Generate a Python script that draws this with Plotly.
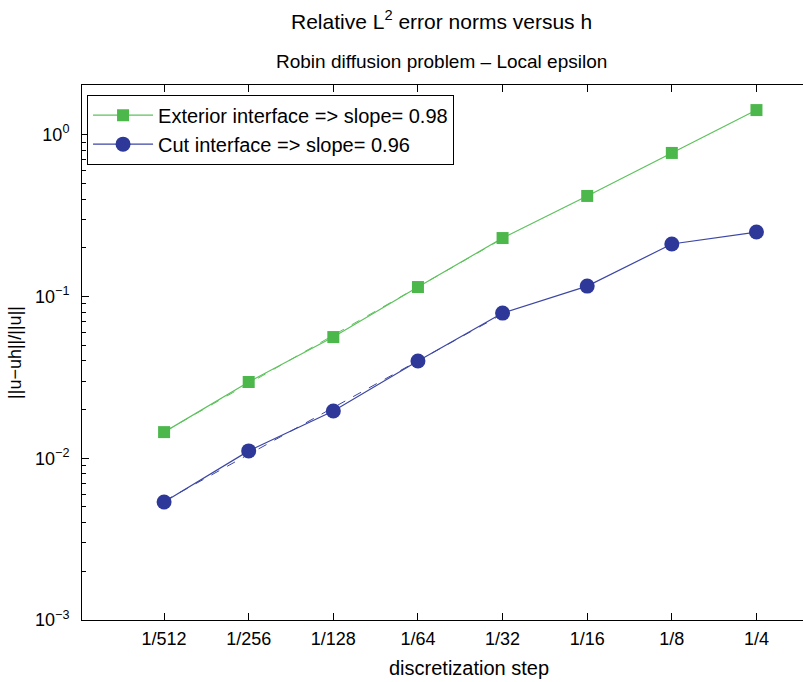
import numpy as np
import plotly.graph_objects as go

# ---- data ----
h_labels = ["1/512", "1/256", "1/128", "1/64", "1/32", "1/16", "1/8", "1/4"]
h_values = [1/512, 1/256, 1/128, 1/64, 1/32, 1/16, 1/8, 1/4]
exterior_err = [0.0145, 0.0296, 0.0561, 0.1143, 0.2296, 0.418, 0.771, 1.419]
cut_err = [0.00536, 0.0111, 0.0196, 0.0399, 0.0789, 0.1159, 0.2109, 0.2501]
exterior_name = "Exterior interface => slope= 0.98"
cut_name = "Cut interface => slope= 0.96"
y_tick_vals = [1e-3, 1e-2, 1e-1, 1]
y_tick_text = ["10<sup>−3</sup>", "10<sup>−2</sup>", "10<sup>−1</sup>", "10<sup>0</sup>"]

GREEN = "#4cb84c"
GREEN_LINE = "#5cc25c"
BLUE = "#2e3898"
BLUE_LINE = "#3c46a4"
FONT = "Liberation Sans, Arial, sans-serif"

def fit_line(h, e, n=5):
    lh = np.log10(h[:n]); le = np.log10(e[:n])
    p = np.polyfit(lh, le, 1)
    return h[:n], list(10 ** np.polyval(p, lh))

fig = go.Figure()
hx, fe = fit_line(h_values, exterior_err)
fig.add_trace(go.Scatter(x=hx, y=fe, mode="lines", line=dict(color=GREEN_LINE, width=1, dash="dash"),
                         showlegend=False, hoverinfo="skip"))
hx, fc = fit_line(h_values, cut_err)
fig.add_trace(go.Scatter(x=hx, y=fc, mode="lines", line=dict(color=BLUE_LINE, width=1, dash="dash"),
                         showlegend=False, hoverinfo="skip"))
fig.add_trace(go.Scatter(x=h_values, y=exterior_err, mode="lines+markers", name=exterior_name,
                         line=dict(color=GREEN_LINE, width=1.2),
                         marker=dict(symbol="square", size=12, color=GREEN)))
fig.add_trace(go.Scatter(x=h_values, y=cut_err, mode="lines+markers", name=cut_name,
                         line=dict(color=BLUE_LINE, width=1.2),
                         marker=dict(symbol="circle", size=15, color=BLUE)))

x_lo = np.log10(2 ** -9.97)
x_hi = np.log10(2 ** -1.45)

fig.update_layout(
    width=803, height=682,
    margin=dict(l=82, r=0, t=85, b=62),
    paper_bgcolor="white", plot_bgcolor="white",
    font=dict(family=FONT, size=18, color="black"),
    showlegend=True,
    legend=dict(x=0.007, y=0.982, xanchor="left", yanchor="top",
                bordercolor="black", borderwidth=1, bgcolor="white",
                font=dict(size=20), itemwidth=60, tracegroupgap=0),
    xaxis=dict(type="log", range=[x_lo, x_hi], tickvals=h_values, ticktext=h_labels,
               ticks="inside", ticklen=7, tickcolor="black", showline=True, linecolor="black",
               linewidth=1, mirror="ticks", showgrid=False, zeroline=False,
               ticklabelstandoff=2, tickfont=dict(size=18)),
    yaxis=dict(type="log", range=[-3, 0.307], tickvals=y_tick_vals, ticktext=y_tick_text,
               ticks="inside", ticklen=7, tickcolor="black", showline=True, linecolor="black",
               linewidth=1, mirror=False, showgrid=False, zeroline=False,
               ticklabelstandoff=8, tickfont=dict(size=18),
               minor=dict(ticks="inside", ticklen=4, tickcolor="black", dtick="D1", showgrid=False),
               title=dict(text="||u−uh||/||u||", font=dict(size=18), standoff=8)),
    annotations=[
        dict(text="Relative L<sup>2</sup> error norms versus h", x=441, y=20,
             showarrow=False, font=dict(size=21)),
        dict(text="Robin diffusion problem – Local epsilon", x=441, y=62,
             showarrow=False, font=dict(size=19)),
        dict(text="discretization step", x=469, y=668,
             showarrow=False, font=dict(size=20)),
    ],
)
# convert pixel anchors to paper coords for titles
pw = 803 - 82; ph = 682 - 85 - 62
for a in fig.layout.annotations:
    a.xref = "paper"; a.yref = "paper"
    a.x = (a.x - 82) / pw
    a.y = 1 + (85 - a.y) / ph
    a.xanchor = "center"; a.yanchor = "middle"

fig.write_html("out.html")
